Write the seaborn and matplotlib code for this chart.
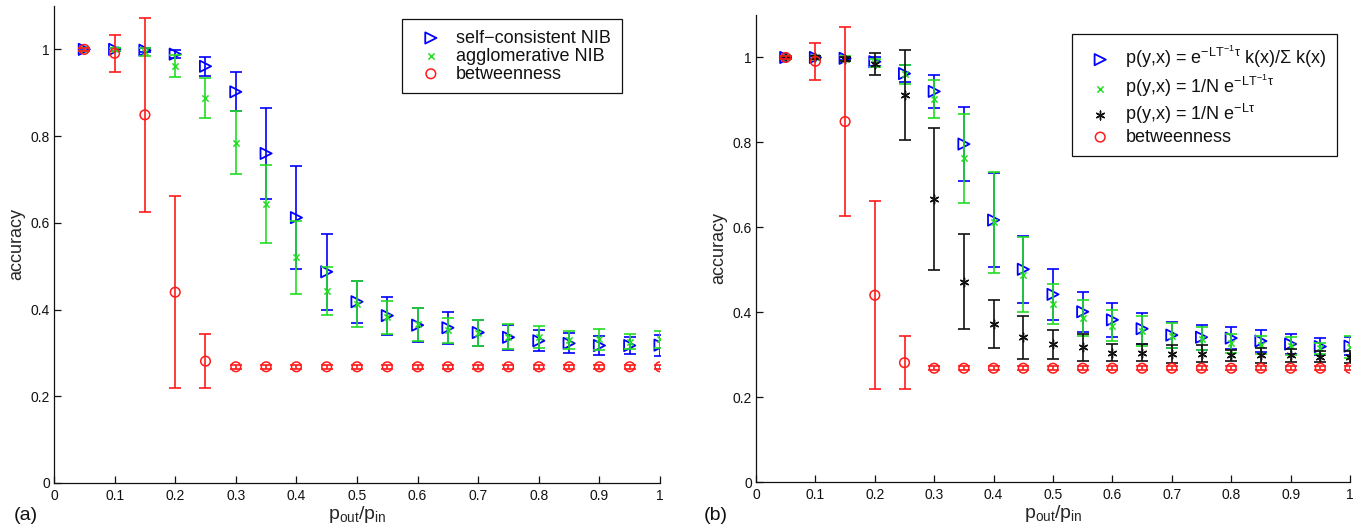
import matplotlib
matplotlib.use("Agg")
import matplotlib.pyplot as plt
import seaborn as sns

# p_out / p_in values shared by every series
p_ratio = [0.05, 0.10, 0.15, 0.20, 0.25, 0.30, 0.35, 0.40, 0.45, 0.50,
           0.55, 0.60, 0.65, 0.70, 0.75, 0.80, 0.85, 0.90, 0.95, 1.00]

# (a) self-consistent NIB
sc_nib = [1.000, 1.000, 0.998, 0.989, 0.961, 0.902, 0.760, 0.612, 0.487, 0.418,
          0.386, 0.364, 0.358, 0.347, 0.336, 0.328, 0.322, 0.317, 0.317, 0.318]
sc_nib_err = [0.002, 0.003, 0.004, 0.010, 0.022, 0.045, 0.105, 0.118, 0.087, 0.048,
              0.044, 0.039, 0.037, 0.030, 0.029, 0.024, 0.023, 0.021, 0.020, 0.024]

# (a) agglomerative NIB
agg_nib = [1.000, 1.000, 0.994, 0.962, 0.888, 0.785, 0.643, 0.521, 0.443, 0.413,
           0.382, 0.366, 0.352, 0.346, 0.337, 0.337, 0.330, 0.331, 0.326, 0.331]
agg_nib_err = [0.003, 0.004, 0.010, 0.026, 0.046, 0.073, 0.090, 0.084, 0.056, 0.053,
               0.038, 0.038, 0.028, 0.030, 0.029, 0.026, 0.020, 0.024, 0.018, 0.020]

# betweenness (same in both panels)
betw = [1.000, 0.991, 0.849, 0.440, 0.281, 0.268, 0.268, 0.268, 0.268, 0.268,
        0.268, 0.268, 0.268, 0.268, 0.268, 0.268, 0.268, 0.268, 0.268, 0.268]
betw_err = [0.003, 0.043, 0.223, 0.221, 0.062, 0.005, 0.005, 0.005, 0.005, 0.005,
            0.005, 0.005, 0.005, 0.005, 0.005, 0.005, 0.005, 0.005, 0.005, 0.005]

# (b) p(y,x) = exp(-L T^-1 tau) k(x) / sum k(x)
deg_weighted = [1.000, 1.000, 0.998, 0.990, 0.962, 0.920, 0.796, 0.617, 0.501, 0.442,
                0.401, 0.382, 0.361, 0.346, 0.341, 0.339, 0.332, 0.325, 0.319, 0.320]
deg_weighted_err = [0.002, 0.003, 0.004, 0.010, 0.020, 0.038, 0.088, 0.110, 0.079, 0.060,
                    0.047, 0.040, 0.036, 0.030, 0.029, 0.026, 0.025, 0.024, 0.021, 0.022]

# (b) p(y,x) = 1/N exp(-L T^-1 tau)
uniform_norm = [1.000, 1.000, 0.997, 0.987, 0.960, 0.902, 0.762, 0.612, 0.488, 0.420,
                0.386, 0.368, 0.355, 0.345, 0.338, 0.327, 0.323, 0.320, 0.315, 0.318]
uniform_norm_err = [0.003, 0.004, 0.006, 0.010, 0.022, 0.045, 0.105, 0.119, 0.088, 0.047,
                    0.043, 0.036, 0.035, 0.030, 0.028, 0.022, 0.022, 0.022, 0.013, 0.026]

# (b) p(y,x) = 1/N exp(-L tau)
uniform_raw = [1.000, 1.000, 0.997, 0.984, 0.912, 0.667, 0.472, 0.372, 0.341, 0.324,
               0.317, 0.305, 0.305, 0.302, 0.302, 0.298, 0.298, 0.298, 0.295, 0.295]
uniform_raw_err = [0.002, 0.003, 0.005, 0.026, 0.106, 0.167, 0.112, 0.056, 0.051, 0.034,
                   0.031, 0.020, 0.021, 0.021, 0.020, 0.014, 0.017, 0.015, 0.013, 0.014]

labels_a = ["self\u2212consistent NIB", "agglomerative NIB", "betweenness"]
labels_b = [r"p(y,x) = e$^{-LT^{-1}\tau}$ k(x)/$\Sigma$ k(x)",
            r"p(y,x) = 1/N e$^{-LT^{-1}\tau}$",
            r"p(y,x) = 1/N e$^{-L\tau}$",
            "betweenness"]
x_ticks = [0, 0.1, 0.2, 0.3, 0.4, 0.5, 0.6, 0.7, 0.8, 0.9, 1]
x_tick_labels = ["0", "0.1", "0.2", "0.3", "0.4", "0.5", "0.6", "0.7", "0.8", "0.9", "1"]
y_ticks = [0, 0.2, 0.4, 0.6, 0.8, 1]
y_tick_labels = ["0", "0.2", "0.4", "0.6", "0.8", "1"]

BLUE = "#0000ff"
GREEN = "#22dd22"
RED = "#ff1a1a"
BLACK = "#111111"

sns.set_theme(style="ticks")
plt.rcParams["font.family"] = ["Liberation Sans", "DejaVu Sans"]
plt.rcParams.update({
    "mathtext.fontset": "custom",
    "mathtext.rm": "Liberation Sans",
    "mathtext.it": "Liberation Sans",
    "mathtext.bf": "Liberation Sans:bold",
    "mathtext.sf": "Liberation Sans",
    "xtick.direction": "in",
    "ytick.direction": "in",
    "xtick.major.size": 5,
    "ytick.major.size": 5,
    "xtick.major.width": 0.9,
    "ytick.major.width": 0.9,
    "axes.linewidth": 0.9,
    "axes.edgecolor": "#111111",
    "xtick.color": "#111111",
    "ytick.color": "#111111",
    "text.color": "#111111",
})

fig = plt.figure(figsize=(13.66, 5.29), dpi=100)
W, H = 1366, 529
ax_a = fig.add_axes([54 / W, 1 - 483 / H, (660 - 54) / W, (483 - 6) / H])
ax_b = fig.add_axes([756 / W, 1 - 482 / H, (1350 - 756) / W, (482 - 15) / H])

MARKERS = {
    "tri": dict(marker=">", s=65, facecolor="none", linewidth=1.3),
    "x": dict(marker="x", s=20, linewidth=1.1),
    "ast": dict(marker=(6, 2, 0), s=40, linewidth=1.0),
    "circ": dict(marker="o", s=48, facecolor="none", linewidth=1.1),
}


def draw_series(ax, y, err, color, kind, label, z):
    ax.errorbar(p_ratio, y, yerr=err, fmt="none", ecolor=color,
                elinewidth=1.2, capsize=4.6, capthick=1.2, zorder=z)
    sns.scatterplot(x=p_ratio, y=y, ax=ax, color=color, edgecolor=color,
                    label=label, zorder=z + 0.5, **MARKERS[kind])


draw_series(ax_a, sc_nib, sc_nib_err, BLUE, "tri", labels_a[0], 2)
draw_series(ax_a, agg_nib, agg_nib_err, GREEN, "x", labels_a[1], 3)
draw_series(ax_a, betw, betw_err, RED, "circ", labels_a[2], 4)

draw_series(ax_b, deg_weighted, deg_weighted_err, BLUE, "tri", labels_b[0], 2)
draw_series(ax_b, uniform_norm, uniform_norm_err, GREEN, "x", labels_b[1], 3)
draw_series(ax_b, uniform_raw, uniform_raw_err, BLACK, "ast", labels_b[2], 4)
draw_series(ax_b, betw, betw_err, RED, "circ", labels_b[3], 5)

for ax in (ax_a, ax_b):
    ax.set_xlim(0, 1)
    ax.set_ylim(0, 1.1)
    ax.set_xticks(x_ticks)
    ax.set_xticklabels(x_tick_labels, fontsize=10)
    ax.set_yticks(y_ticks)
    ax.set_yticklabels(y_tick_labels, fontsize=10)
    ax.tick_params(axis="x", pad=4)
    ax.tick_params(axis="y", pad=3)
    sns.despine(ax=ax)
    ax.set_xlabel(r"p$_{\mathrm{out}}$/p$_{\mathrm{in}}$", fontsize=14, labelpad=1)
    ax.set_ylabel("accuracy", fontsize=13, labelpad=4)
    ax.grid(False)

fig.text(14 / W, 1 - 515 / H, "(a)", fontsize=14, va="center", ha="left")
fig.text(704 / W, 1 - 515 / H, "(b)", fontsize=14, va="center", ha="left")

leg_kw = dict(frameon=True, fancybox=False, framealpha=1, edgecolor="#111111",
              borderaxespad=0, handletextpad=0.4, scatterpoints=1, fontsize=13)
leg_a = ax_a.legend(loc="upper right", bbox_to_anchor=(0.937, 0.973),
                    labelspacing=0.05, borderpad=0.6, **leg_kw)
leg_b = ax_b.legend(loc="upper right", bbox_to_anchor=(0.978, 0.959),
                    labelspacing=0.15, borderpad=0.55, **leg_kw)
for leg in (leg_a, leg_b):
    leg.get_frame().set_linewidth(0.9)

fig.savefig("out.png", dpi=100)
